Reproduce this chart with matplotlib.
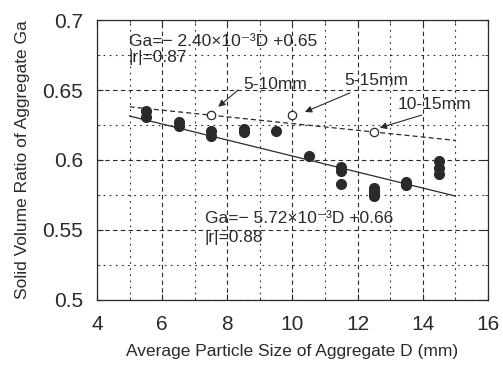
import numpy as np
import matplotlib.pyplot as plt
from matplotlib.ticker import MultipleLocator

plt.rcParams['font.family'] = ['Liberation Sans', 'DejaVu Sans']

# single-size aggregates (filled)
d_single = [5.5, 5.5, 6.5, 6.5, 7.5, 7.5, 8.5, 8.5, 9.5, 10.5,
            11.5, 11.5, 11.5, 12.5, 12.5, 12.5, 12.5, 13.5, 13.5,
            14.5, 14.5, 14.5]
ga_single = [0.635, 0.631, 0.627, 0.624, 0.621, 0.617, 0.622, 0.620, 0.621, 0.603,
             0.595, 0.592, 0.583, 0.580, 0.578, 0.576, 0.574, 0.584, 0.582,
             0.599, 0.594, 0.590]

# mixed aggregates (open)
mix_labels = ['5-10mm', '5-15mm', '10-15mm']
d_mix = [7.5, 10.0, 12.5]
ga_mix = [0.632, 0.632, 0.620]

# regression lines
slope_single, icpt_single = -5.72e-3, 0.66
slope_mix, icpt_mix = -2.40e-3, 0.65
d_fit = np.array([5.0, 15.0])

ink = '#2a2a2a'
fs_note = 12.5

fig = plt.figure(figsize=(5.03, 3.72), dpi=100)
ax = fig.add_axes([0.193, 0.194, 0.777, 0.752])

ax.set_xlim(4, 16)
ax.set_ylim(0.5, 0.7)
ax.xaxis.set_major_locator(MultipleLocator(2))
ax.xaxis.set_minor_locator(MultipleLocator(1))
ax.yaxis.set_minor_locator(MultipleLocator(0.025))
ax.set_yticks([0.5, 0.55, 0.6, 0.65, 0.7])
ax.set_yticklabels(['0.5', '0.55', '0.6', '0.65', '0.7'])

ax.grid(which='major', linestyle=(0, (4, 3)), color=ink, linewidth=0.8)
ax.grid(which='minor', linestyle=(0, (1.5, 4)), color=ink, linewidth=0.8)
ax.set_axisbelow(True)

ax.tick_params(which='both', direction='in', top=True, right=True, color=ink,
               labelcolor=ink, labelsize=15, length=4)
ax.tick_params(axis='x', pad=11)
ax.tick_params(axis='y', pad=10)
ax.tick_params(which='minor', length=2.5)
for s in ax.spines.values():
    s.set_color(ink)
    s.set_linewidth(0.9)

ax.plot(d_fit, slope_single * d_fit + icpt_single, color=ink, lw=0.9)
ax.plot(d_fit, slope_mix * d_fit + icpt_mix, color=ink, lw=0.9, linestyle=(0, (4, 2.5)))

ax.plot(d_single, ga_single, 'o', color=ink, markersize=7, zorder=3)
ax.plot(d_mix, ga_mix, 'o', mfc='white', mec=ink, mew=0.9, markersize=6, zorder=3)

# labels with arrows for mixed samples
label_pos = [(8.48, 0.6536), (11.6, 0.6570), (13.23, 0.6393)]
tail_pos = [(8.33, 0.6500), (11.76, 0.6479), (13.97, 0.6321)]
head_off = [(0.22, 0.0060), (0.38, 0.0023), (0.18, 0.0030)]
for lab, d, g, lp, tp, ho in zip(mix_labels, d_mix, ga_mix, label_pos, tail_pos, head_off):
    ax.text(lp[0], lp[1], lab, fontsize=fs_note, color=ink, va='center', ha='left')
    ax.annotate('', xy=(d + ho[0], g + ho[1]), xytext=tp,
                arrowprops=dict(arrowstyle='-|>', color=ink, lw=0.8,
                                mutation_scale=10, shrinkA=0, shrinkB=0))

ax.text(4.98, 0.6850, 'Ga=\u2212 2.40\u00d710\u207b\u00b3D +0.65', fontsize=fs_note,
        color=ink, va='center', ha='left')
ax.text(4.98, 0.6736, '|r|=0.87', fontsize=fs_note, color=ink, va='center', ha='left')
ax.text(7.31, 0.5579, 'Ga=\u2212 5.72\u00d710\u207b\u00b3D +0.66', fontsize=fs_note,
        color=ink, va='center', ha='left')
ax.text(7.31, 0.5443, '|r|=0.88', fontsize=fs_note, color=ink, va='center', ha='left')

ax.set_xlabel('Average Particle Size of Aggregate D (mm)', fontsize=12.5, color=ink,
              labelpad=7)
ax.set_ylabel('Solid Volume Ratio of Aggregate Ga', fontsize=12.5, color=ink, labelpad=9)

fig.savefig('out.png', dpi=100)
